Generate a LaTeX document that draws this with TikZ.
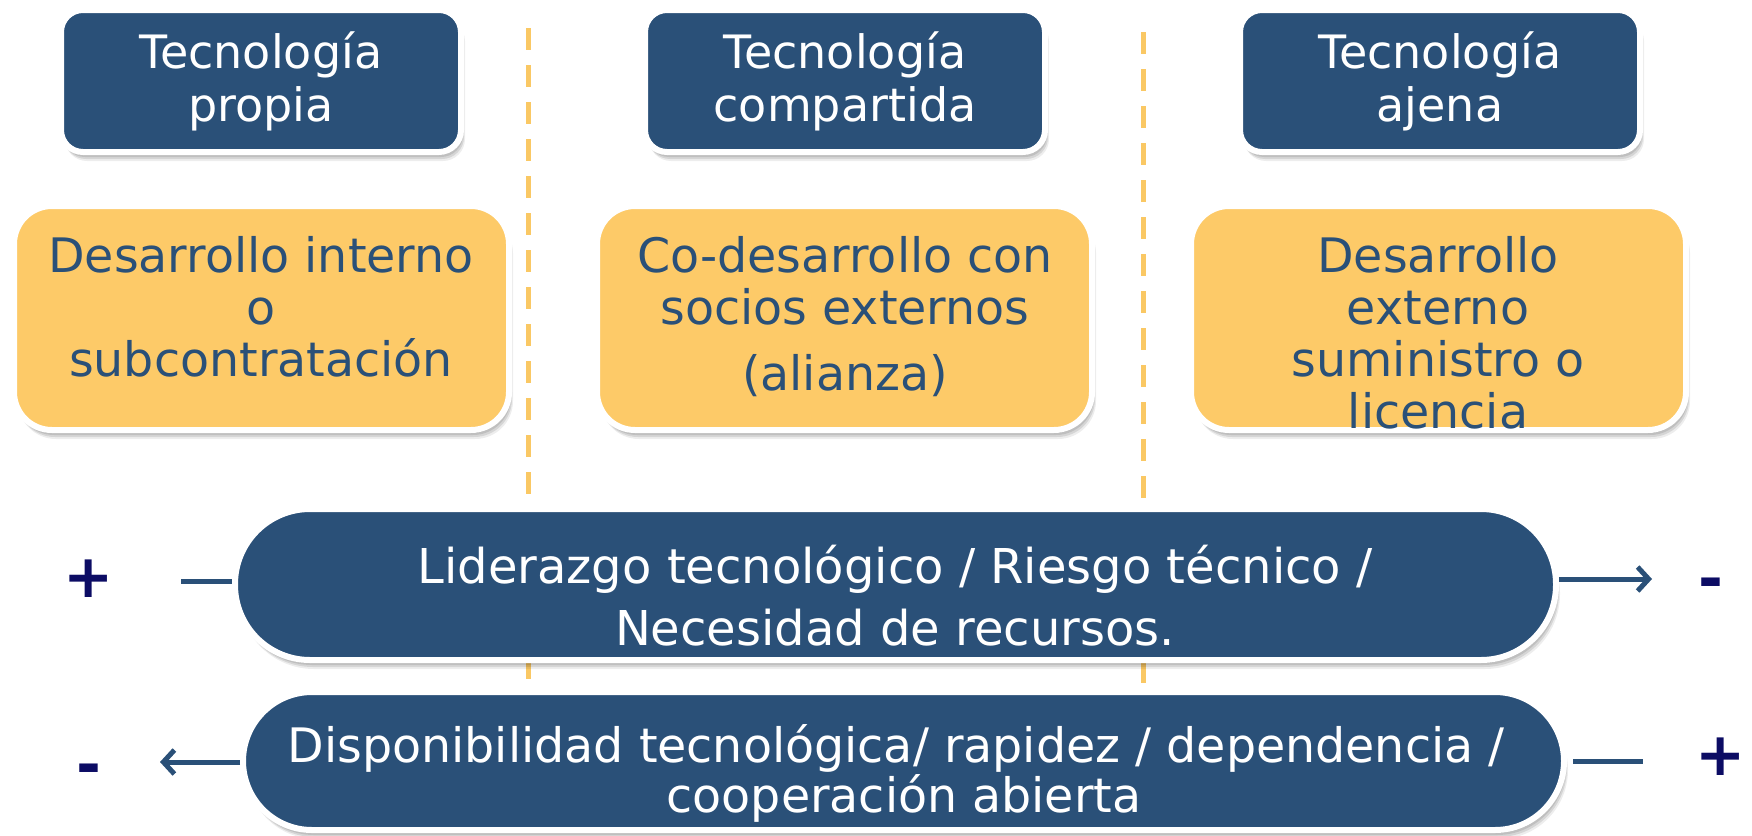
\documentclass[tikz,border=0pt]{standalone}
\usepackage{fontspec}
\setmainfont{DejaVu Sans}
\usetikzlibrary{shadows,arrows.meta}
\definecolor{boxblue}{RGB}{42,80,120}
\definecolor{boxyellow}{RGB}{253,202,104}
\definecolor{dashyellow}{RGB}{250,200,100}
\definecolor{signnavy}{RGB}{12,12,100}
\tikzset{
  shadowed/.style={
    drop shadow={shadow xshift=1pt,shadow yshift=-3pt,opacity=0.10,fill=black},
    drop shadow={shadow xshift=2pt,shadow yshift=-5pt,opacity=0.10,fill=black},
    drop shadow={shadow xshift=3pt,shadow yshift=-7pt,opacity=0.10,fill=black},
    drop shadow={shadow xshift=4pt,shadow yshift=-9pt,opacity=0.07,fill=black}},
  bluebox/.style={shadowed, draw=white, line width=6pt, fill=boxblue, rounded corners=22pt,
    minimum width=400pt, minimum height=142pt, inner sep=0pt, text=white, align=center,
    font=\fontsize{46}{53}\selectfont},
  yellowbox/.style={shadowed, draw=white, line width=6pt, fill=boxyellow, rounded corners=38pt,
    minimum width=495pt, minimum height=224pt, inner sep=0pt},
  yellowtext/.style={anchor=north, text=boxblue, align=center, inner sep=0pt,
    font=\fontsize{47.5}{52}\selectfont},
  barbox/.style={shadowed, draw=white, line width=6pt, fill=boxblue, inner sep=0pt},
  bartext/.style={anchor=north, text=white, align=center, inner sep=0pt},
  divider/.style={dashyellow, line width=5pt, dash pattern=on 22pt off 15pt},
  conn/.style={boxblue, line width=5pt},
  arr/.style={conn, -{Straight Barb[length=11pt,width=24pt]}},
  sign/.style={text=signnavy, font=\fontsize{60}{60}\selectfont\bfseries, inner sep=0pt},
}
\begin{document}
\begin{tikzpicture}[x=1pt,y=-1pt]
\useasboundingbox (0,0) rectangle (1752,835);
% dividers
\coordinate (d1top) at (528,28);
\coordinate (d1bot) at (528,690);
\coordinate (d2top) at (1143,32);
\coordinate (d2bot) at (1143,690);
\draw[divider] (d1top) -- (d1bot);
\draw[divider] (d2top) -- (d2bot);
% top boxes
\node[bluebox] (b1) at (261,81) {Tecnología\\propia};
\node[bluebox] (b2) at (845,81) {Tecnología\\compartida};
\node[bluebox] (b3) at (1440,81) {Tecnología\\ajena};
% yellow boxes
\node[yellowbox] (y1) at (261.5,318) {};
\node[yellowbox] (y2) at (844.5,318) {};
\node[yellowbox] (y3) at (1438.5,318) {};
\node[yellowtext] (y1t) at (261,236) {Desarrollo interno\\o\\subcontratación};
\node[yellowtext] (y2t) at (845,236) {Co-desarrollo con\\socios externos\\[14pt](alianza)};
\node[yellowtext] (y3t) at (1438,236) {Desarrollo\\externo\\suministro o\\licencia};
% bars
\node[barbox, rounded corners=75pt, minimum width=1321pt, minimum height=151pt] (bar1) at (895.5,584.5) {};
\node[barbox, rounded corners=69pt, minimum width=1321pt, minimum height=138pt] (bar2) at (903.5,761) {};
\node[bartext, font=\fontsize{48}{62}\selectfont] (bar1t) at (895,545) {Liderazgo tecnológico / Riesgo técnico /\\Necesidad de recursos.};
\node[bartext, font=\fontsize{47.5}{50}\selectfont] (bar2t) at (904,724) {Disponibilidad tecnológica/ rapidez / dependencia /\hspace*{16pt}\\cooperación abierta};
% signs
\node[sign] (s1) at (89,579) {+};
\node[sign] (s2) at (1711,589) {-};
\node[sign] (s3) at (89,775) {-};
\node[sign] (s4) at (1721,757) {+};
% connectors
\coordinate (c1) at (181,581);
\coordinate (c2) at (1652,579);
\coordinate (c3) at (160,762);
\coordinate (c4) at (1643,761);
\draw[conn] (c1) -- (c1 -| bar1.west);
\draw[arr] (c2 -| bar1.east) -- (c2);
\draw[arr] (c3 -| bar2.west) -- (c3);
\draw[conn, shorten <=6pt] (c4 -| bar2.east) -- (c4);
\end{tikzpicture}
\end{document}
